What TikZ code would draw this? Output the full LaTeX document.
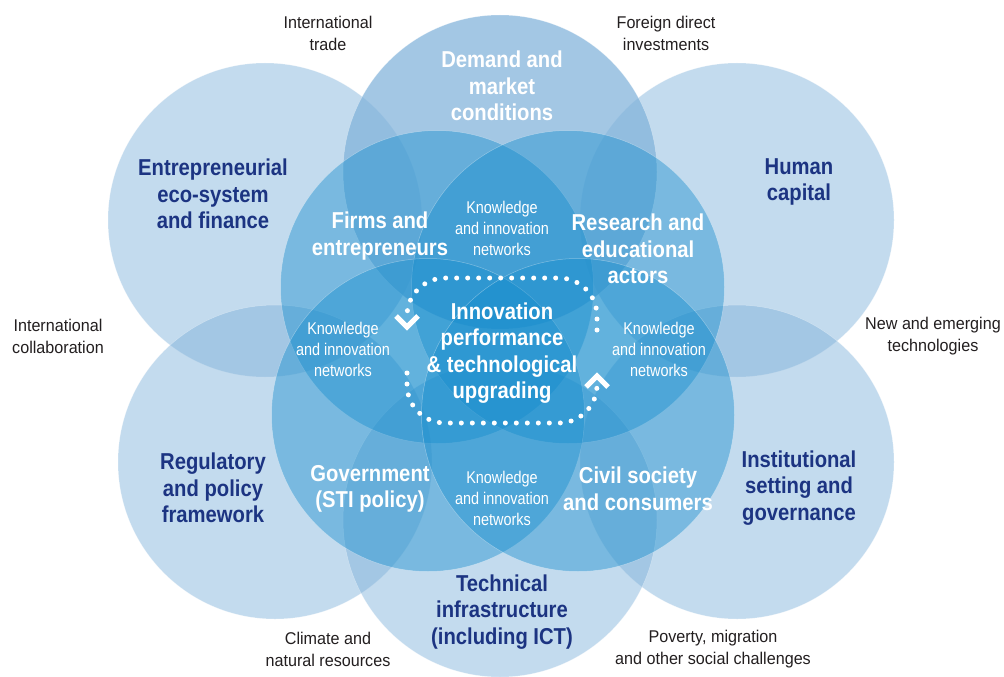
\documentclass[tikz,border=0pt]{standalone}
\usepackage{fontspec}
\setmainfont{Liberation Sans}
\newfontfamily\bigfont{Liberation Sans}[FakeStretch=0.88]
\newfontfamily\netfont{Liberation Sans}[FakeStretch=0.85]
\newfontfamily\notefont{Liberation Sans}[FakeStretch=0.95]
\definecolor{navy}{RGB}{28,52,130}
\definecolor{outerblue}{RGB}{126,177,218}
\definecolor{innerblue}{RGB}{20,140,205}
\definecolor{notegray}{RGB}{35,31,32}
\begin{document}
\begin{tikzpicture}[x=1pt,y=-1pt,
  outercirc/.style={circle, inner sep=0pt, outer sep=0pt, minimum size=314pt, fill=outerblue, fill opacity=0.46, draw=white, draw opacity=0.35, line width=0.5pt},
  topcirc/.style={outercirc, fill opacity=0.71},
  innercirc/.style={circle, inner sep=0pt, outer sep=0pt, minimum size=313pt, fill=innerblue, fill opacity=0.42, draw=white, draw opacity=0.35, line width=0.5pt},
  biglabel/.style={align=center, font=\bigfont\bfseries\fontsize{23}{26.5}\selectfont, text=navy, inner sep=0pt},
  whitelabel/.style={biglabel, text=white},
  netlabel/.style={align=center, font=\netfont\fontsize{17}{21}\selectfont, text=white, inner sep=0pt},
  notelabel/.style={align=center, font=\notefont\fontsize{17}{22}\selectfont, text=notegray, inner sep=0pt},
  dots/.style={draw=white, line width=5pt, line cap=round, dash pattern=on 0pt off 11pt, rounded corners=38pt},
  chevron/.style={draw=white, line width=5pt, line join=miter},
]
\useasboundingbox (0,0) rectangle (1004,677);
\fill[white] (0,0) rectangle (1004,677);
% outer circles
\node[outercirc] (entre) at (265,220) {};
\node[outercirc] (regul) at (275,462) {};
\node[outercirc] (human) at (737,220) {};
\node[outercirc] (instit) at (737,462) {};
\node[outercirc] (techn) at (500,520) {};
\node[topcirc] (demand) at (500,172) {};
% inner circles
\node[innercirc] (firms) at (437,287) {};
\node[innercirc] (research) at (568,287) {};
\node[innercirc] (govt) at (428,415) {};
\node[innercirc] (civil) at (578,415) {};
% cycle
\draw[dots] (597,330) -- (597,278) -- (407,278) -- (407,313);
\draw[dots] (407,373) -- (407,423) -- (597,423) -- (597,387);
\draw[chevron] (396,316) -- (407,327) -- (418,316);
\draw[chevron] (586,387) -- (597,376) -- (608,387);
% outer notes
\node[notelabel] (ltrade) at (328,33) {International\\trade};
\node[notelabel] (lfdi) at (666,33) {Foreign direct\\investments};
\node[notelabel] (lcollab) at (58,336) {International\\collaboration};
\node[notelabel] (ltechno) at (933,336) {New and emerging\\technologies};
\node[notelabel] (lclim) at (328,649) {Climate and\\natural resources};
\node[notelabel] (lpov) at (713,649) {Poverty, migration\\and other social challenges};
% outer labels
\node[whitelabel] (tdemand) at (502,86) {Demand and\\market\\conditions};
\node[biglabel] (tentre) at (213,194) {Entrepreneurial\\eco-system\\and finance};
\node[biglabel] (thuman) at (799,182) {Human\\capital};
\node[biglabel] (tregul) at (213,488) {Regulatory\\and policy\\framework};
\node[biglabel] (tinstit) at (799,488) {Institutional\\setting and\\governance};
\node[biglabel] (ttechn) at (502,612) {Technical\\infrastructure\\(including ICT)};
% inner labels
\node[whitelabel] (tfirms) at (380,236) {Firms and\\entrepreneurs};
\node[whitelabel] (tresearch) at (638,249) {Research and\\educational\\actors};
\node[whitelabel] (tgovt) at (370,489) {Government\\(STI policy)};
\node[whitelabel] (tcivil) at (638,489) {Civil society\\and consumers};
\node[whitelabel] (tinno) at (502,353) {Innovation\\performance\\\& technological\\upgrading};
% networks
\node[netlabel] (ntop) at (502,228) {Knowledge\\and innovation\\networks};
\node[netlabel] (nleft) at (343,349) {Knowledge\\and innovation\\networks};
\node[netlabel] (nright) at (659,349) {Knowledge\\and innovation\\networks};
\node[netlabel] (nbottom) at (502,498) {Knowledge\\and innovation\\networks};
\end{tikzpicture}
\end{document}
